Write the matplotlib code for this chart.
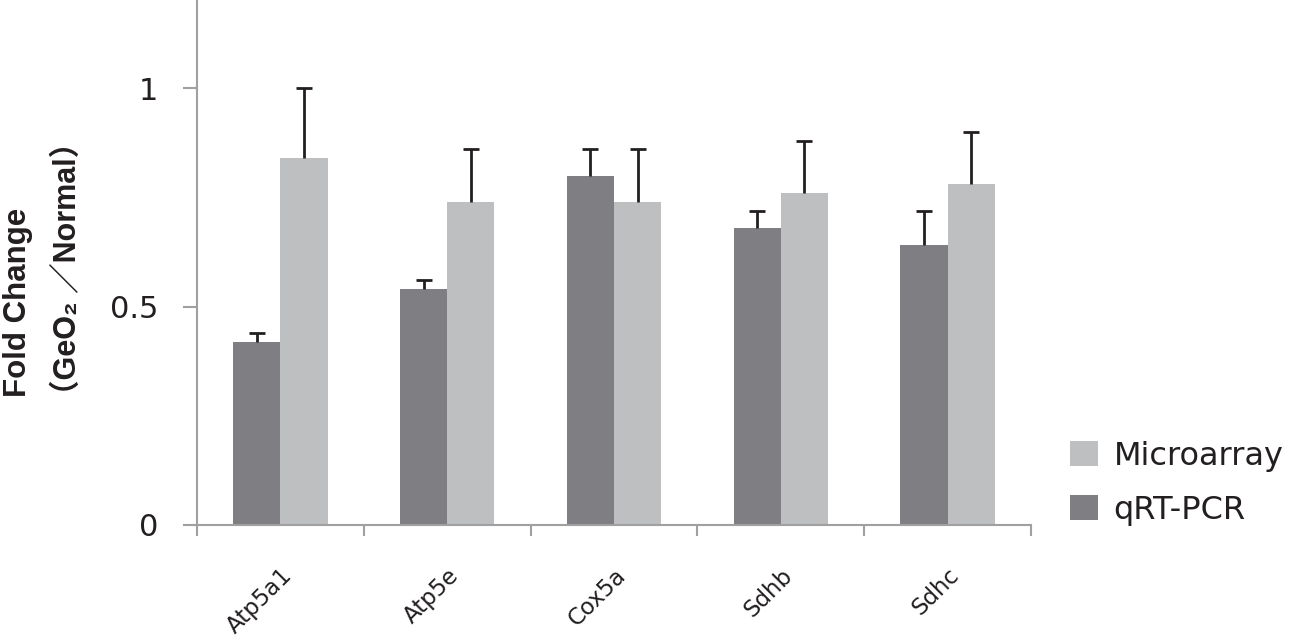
import numpy as np
import matplotlib
matplotlib.use("Agg")
import matplotlib.pyplot as plt

genes = ['Atp5a1', 'Atp5e', 'Cox5a', 'Sdhb', 'Sdhc']
qrt_pcr = [0.42, 0.54, 0.80, 0.68, 0.64]
qrt_pcr_err = [0.02, 0.02, 0.06, 0.04, 0.08]
microarray = [0.84, 0.74, 0.74, 0.76, 0.78]
microarray_err = [0.16, 0.12, 0.12, 0.12, 0.12]

dark = '#7f7f83'
light = '#bebfc1'
axis_gray = '#a0a0a0'

fig = plt.figure(figsize=(13, 6.38), dpi=100)
ax = fig.add_axes([197 / 1300, 1 - 525 / 638, (1031 - 197) / 1300, 525 / 638])

x = np.arange(len(genes))
w = 0.283
err_kw = dict(ecolor='#231f20', elinewidth=2, capsize=5.5, capthick=2)
b1 = ax.bar(x - w / 2, qrt_pcr, w, color=dark, label='qRT-PCR',
            yerr=[np.zeros(len(x)), qrt_pcr_err], error_kw=err_kw)
b2 = ax.bar(x + w / 2, microarray, w, color=light, label='Microarray',
            yerr=[np.zeros(len(x)), microarray_err], error_kw=err_kw)
# only the upper half of the error bars is drawn, hide the lower caps
for b in (b1, b2):
    caps = b.errorbar.lines[1]
    caps[0].set_visible(False)

ax.set_xlim(-0.5, len(genes) - 0.5)
ax.set_ylim(0, 1.202)
ax.set_yticks([0, 0.5, 1])
ax.set_yticklabels(['0', '0.5', '1'], fontsize=22, color='#231f20')
ax.tick_params(axis='y', length=10, width=1.5, color=axis_gray, pad=18)

ax.set_xticks(x)
ax.set_xticklabels(genes, rotation=45, ha='right', rotation_mode='anchor',
                   fontsize=16.5, color='#231f20')
ax.tick_params(axis='x', which='major', length=0, pad=28)
ax.set_xticks(np.arange(len(genes) + 1) - 0.5, minor=True)
ax.tick_params(axis='x', which='minor', length=8, width=1.5, color=axis_gray)

for s in ['top', 'right']:
    ax.spines[s].set_visible(False)
for s in ['left', 'bottom']:
    ax.spines[s].set_color(axis_gray)
    ax.spines[s].set_linewidth(1.5)

fam = ['Liberation Sans', 'DejaVu Sans', 'Noto Sans CJK JP']
fig.text(18 / 1300, 1 - 397 / 638, 'Fold Change', rotation=90, fontsize=22.5,
         fontweight='bold', family=fam, ha='center', va='bottom', color='#231f20')
fig.text(68 / 1300, 1 - 410 / 638, '（GeO₂ ／Normal）', rotation=90, fontsize=22,
         fontweight='bold', family=fam, ha='center', va='bottom', color='#231f20')

leg = fig.legend([b2, b1], ['Microarray', 'qRT-PCR'], loc='center left',
                 bbox_to_anchor=(1041 / 1300, 1 - 483 / 638), frameon=False,
                 fontsize=23, handlelength=0.87, handleheight=0.87,
                 handletextpad=0.5, labelspacing=0.72, labelcolor='#231f20')

fig.savefig('out.png', dpi=100)
